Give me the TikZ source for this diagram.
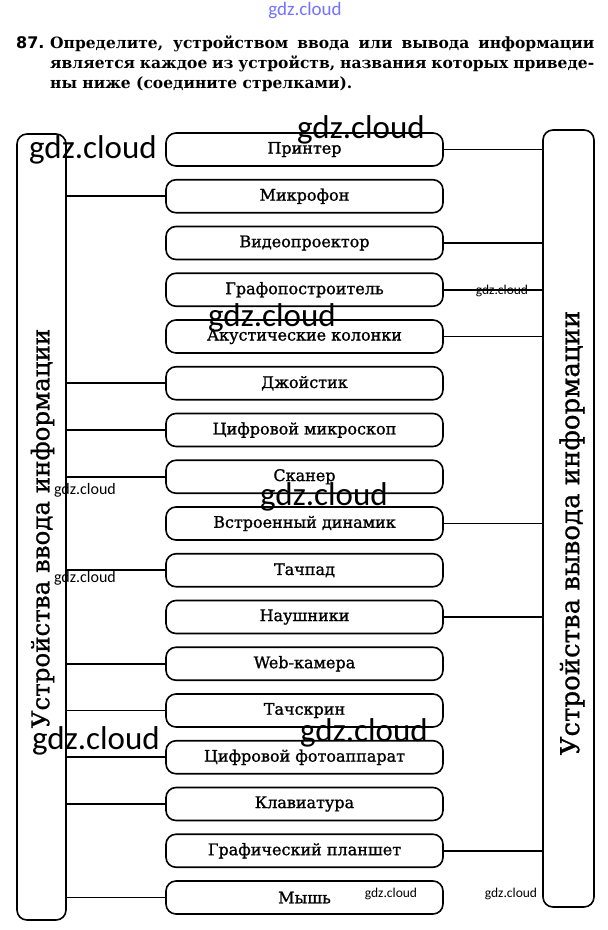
\documentclass[tikz,border=0pt]{standalone}
\usepackage{fontspec}
\setmainfont{DejaVu Serif}
\newfontfamily\devfont[RawFeature={embolden=1.2}]{DejaVu Serif}
\newfontfamily\sidefont[RawFeature={embolden=0.8}]{DejaVu Serif}
\newfontfamily\wmfont{Carlito}
\newfontfamily\numfont{DejaVu Sans}
\begin{document}
\begin{tikzpicture}[x=1pt,y=-1pt,
  dev/.style={draw, line width=1.6pt, rounded corners=10pt, minimum width=277pt, minimum height=33pt, inner sep=0pt, font=\devfont\fontsize{16}{18}\selectfont},
  sidebox/.style={draw, line width=1.6pt, rounded corners=10pt, inner sep=0pt},
  conn/.style={line width=1.6pt},
  sidelabel/.style={rotate=90, inner sep=0pt},
  title/.style={anchor=base west, inner sep=0pt, font=\bfseries\fontsize{15.5}{18}\selectfont},
  wmbig/.style={font=\wmfont\fontsize{33}{36}\selectfont, inner sep=0pt},
  wmsmall/.style={font=\wmfont\fontsize{16}{18}\selectfont, inner sep=0pt},
  wmtiny/.style={font=\wmfont\fontsize{13.5}{16}\selectfont, inner sep=0pt}
]
\useasboundingbox (0,0) rectangle (608,930);
\fill[white] (0,0) rectangle (608,930);

% title
\node[anchor=base west, inner sep=0pt, font=\numfont\bfseries\fontsize{16}{18}\selectfont] (num) at (16,48) {87.};
\node[title] (t1) at (50,48) {\makebox[544pt][s]{Определите, устройством ввода или вывода информации}};
\node[title] (t2) at (50,68) {\makebox[544pt][s]{является каждое из устройств, названия которых приведе-}};
\node[title] (t3) at (50,88) {ны ниже (соедините стрелками).};

% side boxes
\node[sidebox, minimum width=49pt, minimum height=786pt] (inbox) at (41.5,527) {};
\node[sidebox, minimum width=51pt, minimum height=777pt] (outbox) at (568.5,518.5) {};
\node[sidelabel, font=\sidefont\fontsize{24.5}{28}\selectfont] (inlabel) at (42.5,528.5) {Устройства ввода информации};
\node[sidelabel, font=\sidefont\fontsize{26}{30}\selectfont] (outlabel) at (572,533) {Устройства вывода информации};

% devices
\foreach \i/\t in {0/Принтер, 1/Микрофон, 2/Видеопроектор, 3/Графопостроитель,
  4/Акустические колонки, 5/Джойстик, 6/Цифровой микроскоп, 7/Сканер,
  8/Встроенный динамик, 9/Тачпад, 10/Наушники, 11/Web-камера, 12/Тачскрин,
  13/Цифровой фотоаппарат, 14/Клавиатура, 15/Графический планшет, 16/Мышь}
  \node[dev] (d\i) at (304.5,{149.5+46.75*\i}) {\t};

% connectors
\foreach \i in {1,5,6,7,9,11,12,13,14,16}
  \draw[conn] (d\i.west) -- (d\i.west -| inbox.east);
\foreach \i in {0,2,3,4,8,10,15}
  \draw[conn] (d\i.east) -- (d\i.east -| outbox.west);

% watermarks
\node[font=\wmfont\fontsize{19}{20}\selectfont, text=blue!55!white, inner sep=0pt] (wm0) at (305,11) {gdz.cloud};
\node[wmbig] (wm1) at (361,130) {gdz.cloud};
\node[wmbig] (wm2) at (93,150) {gdz.cloud};
\node[wmtiny] (wm3) at (502,291) {gdz.cloud};
\node[wmbig] (wm4) at (272,318) {gdz.cloud};
\node[wmsmall] (wm5) at (85,490) {gdz.cloud};
\node[wmbig] (wm6) at (324,497) {gdz.cloud};
\node[wmsmall] (wm7) at (85,578) {gdz.cloud};
\node[wmbig] (wm8) at (96,741) {gdz.cloud};
\node[wmbig] (wm9) at (364,733) {gdz.cloud};
\node[wmtiny] (wm10) at (391,894) {gdz.cloud};
\node[wmtiny] (wm11) at (511,894) {gdz.cloud};
\end{tikzpicture}
\end{document}
